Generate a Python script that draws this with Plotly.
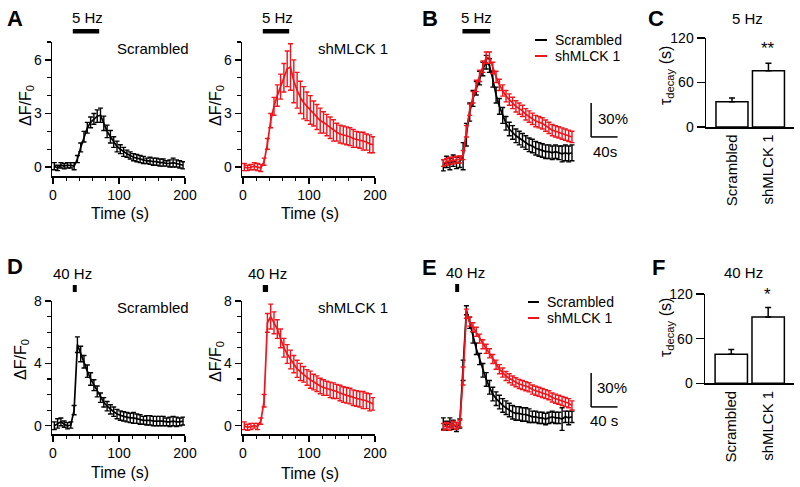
import plotly.graph_objects as go

W, H = 800, 487
FONT = "Liberation Sans, Arial, sans-serif"
RED = "#f0141c"
BLACK = "#000000"

# ---------------- data ----------------
TIME = [2, 7, 12, 17, 22, 27, 32, 37, 42, 47, 52, 57, 62, 67, 72, 77, 82, 87, 92, 97,
        102, 107, 112, 117, 122, 127, 132, 137, 142, 147, 152, 157, 162, 167, 172, 177,
        182, 187, 192, 197]

# Panel A (5 Hz), dF/F0
A_SCR = [0.05, -0.05, 0.1, 0.05, 0.1, 0.1, 0.05, 0.45, 1.1, 1.7, 2.2, 2.5, 2.7, 2.85, 2.9,
         2.45, 2.0, 1.7, 1.4, 1.15, 1.0, 0.85, 0.75, 0.65, 0.55, 0.5, 0.45, 0.4, 0.35, 0.35,
         0.3, 0.3, 0.25, 0.25, 0.2, 0.2, 0.25, 0.2, 0.15, 0.1]
A_SCR_ERR = [0.2, 0.15, 0.15, 0.15, 0.15, 0.15, 0.2, 0.2, 0.25, 0.3, 0.3, 0.3, 0.3, 0.35, 0.4,
             0.4, 0.35, 0.35, 0.3, 0.3, 0.25, 0.25, 0.2, 0.2, 0.2, 0.2, 0.2, 0.2, 0.15, 0.2,
             0.2, 0.2, 0.2, 0.2, 0.15, 0.2, 0.25, 0.2, 0.2, 0.2]
A_SH = [0.0, -0.05, 0.0, 0.05, 0.0, -0.05, 0.3, 1.3, 2.6, 3.4, 4.0, 4.5, 5.0, 5.5, 5.6,
        4.8, 4.3, 3.9, 3.6, 3.4, 3.2, 3.0, 2.8, 2.6, 2.5, 2.35, 2.2, 2.05, 1.95, 1.85,
        1.8, 1.75, 1.7, 1.6, 1.55, 1.5, 1.45, 1.4, 1.3, 1.25]
A_SH_ERR = [0.2, 0.15, 0.15, 0.2, 0.2, 0.2, 0.2, 0.3, 0.4, 0.5, 0.6, 0.7, 0.8, 1.0, 1.3,
            1.2, 1.0, 0.9, 0.9, 0.8, 0.8, 0.7, 0.7, 0.7, 0.6, 0.6, 0.6, 0.6, 0.5, 0.5,
            0.5, 0.5, 0.5, 0.5, 0.45, 0.45, 0.5, 0.45, 0.5, 0.45]

# Panel B (5 Hz), normalized %
B_SCR = [-2, 1, -1, 2, 0, 1, 6, 25, 45, 57, 66, 75, 83, 89, 86,
         74, 60, 50, 42, 35, 30, 27, 24, 22, 20, 18, 16, 15, 13, 12,
         11, 10, 10, 9, 10, 9, 8, 9, 8, 9]
B_SCR_ERR = [5, 5, 5, 5, 5, 5, 12, 10, 8, 7, 6, 6, 6, 6, 6, 7, 7, 7, 7, 6,
             6, 6, 6, 6, 6, 6, 6, 6, 6, 6, 6, 6, 6, 6, 6, 6, 7, 7, 7, 7]
B_SH = [0, 1, 2, 2, 3, 3, 7, 28, 47, 58, 68, 77, 85, 93, 93,
        84, 76, 69, 64, 59, 56, 53, 50, 48, 46, 43, 41, 39, 37, 36,
        35, 33, 31, 29, 28, 27, 26, 25, 24, 23]
B_SH_ERR = [3, 3, 3, 3, 3, 3, 4, 5, 5, 5, 5, 5, 5, 5, 5, 5, 5, 5, 5, 5,
            5, 5, 5, 5, 5, 5, 5, 5, 5, 5, 5, 5, 5, 5, 5, 5, 5, 5, 5, 5]

# Panel D (40 Hz), dF/F0
D_SCR = [0.0, 0.15, 0.25, 0.1, 0.0, 0.05, 1.0, 5.2, 4.6, 4.1, 3.5, 3.0, 2.6, 2.2, 1.8,
         1.5, 1.25, 1.05, 0.9, 0.75, 0.65, 0.6, 0.55, 0.5, 0.5, 0.45, 0.4, 0.35, 0.35, 0.35,
         0.3, 0.3, 0.3, 0.3, 0.25, 0.25, 0.3, 0.25, 0.25, 0.3]
D_SCR_ERR = [0.25, 0.3, 0.25, 0.2, 0.2, 0.2, 0.3, 0.5, 0.5, 0.4, 0.4, 0.4, 0.35, 0.35, 0.3,
             0.3, 0.3, 0.3, 0.3, 0.3, 0.3, 0.3, 0.3, 0.3, 0.35, 0.3, 0.3, 0.25, 0.3, 0.3,
             0.3, 0.3, 0.3, 0.3, 0.25, 0.3, 0.3, 0.3, 0.25, 0.25]
D_SH = [0.0, -0.1, -0.05, 0.0, -0.05, 0.3, 1.6, 6.6, 7.0, 6.6, 6.2, 5.6, 5.0, 4.6, 4.25,
        3.95, 3.65, 3.45, 3.3, 3.1, 2.95, 2.8, 2.7, 2.55, 2.45, 2.4, 2.3, 2.25, 2.2, 2.1,
        2.0, 1.95, 1.9, 1.8, 1.75, 1.7, 1.65, 1.6, 1.5, 1.4]
D_SH_ERR = [0.25, 0.2, 0.2, 0.15, 0.2, 0.2, 0.4, 0.6, 0.8, 0.7, 0.6, 0.6, 0.6, 0.6, 0.6,
            0.55, 0.55, 0.55, 0.5, 0.5, 0.55, 0.5, 0.5, 0.5, 0.5, 0.45, 0.5, 0.5, 0.45, 0.5,
            0.5, 0.5, 0.5, 0.5, 0.5, 0.5, 0.55, 0.5, 0.55, 0.4]

# Panel E (40 Hz), normalized %
E_SCR = [3, 1, 4, 2, 0, 3, 50, 103, 92, 79, 69, 60, 50, 42, 35,
         29, 25, 22, 19, 17, 15, 13, 12, 12, 11, 11, 10, 9, 9, 8,
         8, 7, 8, 9, 8, 8, 7, 9, 8, 9]
E_SCR_ERR = [5, 4, 4, 4, 4, 4, 9, 4, 5, 5, 5, 5, 6, 6, 6, 6, 6, 6, 6, 6,
             6, 6, 6, 6, 6, 6, 6, 5, 5, 5, 5, 5, 5, 5, 5, 5, 10, 5, 6, 5]
E_SH = [0, 1, 0, 2, 1, 3, 45, 100, 93, 88, 84, 78, 73, 69, 65,
        60, 55, 51, 48, 45, 43, 41, 39.5, 38, 37, 36, 35, 33, 32, 31,
        30, 29, 28, 26, 25, 24, 23, 22, 21, 19]
E_SH_ERR = [3, 3, 3, 3, 3, 3, 8, 4, 4, 4, 4, 4, 4, 4, 4, 4, 4, 4, 4, 4,
            4, 4, 4, 4, 4, 4, 4, 4, 4, 4, 4, 4, 4, 4, 4, 4, 4, 4, 4, 4]

# Panels C / F: tau decay (s)
GROUPS = ["Scrambled", "shMLCK 1"]
TAU_5HZ = [34, 76]
TAU_5HZ_ERR = [5, 10]
TAU_40HZ = [39, 89]
TAU_40HZ_ERR = [6.5, 13]

STIM_5HZ = [30, 70]
STIM_40HZ = [30, 36]
SCALE_Y = 30   # %
SCALE_X = 40   # s


def px(x):
    return x / W


def py(y):
    return 1 - y / H


fig = go.Figure()

# axis definitions: (x px domain, y px domain, x range, y range)
AX = {
    1: dict(xd=(52, 185), yd=(42, 176), xr=(-1.5, 200), yr=(-0.5, 7.0)),
    2: dict(xd=(242, 375), yd=(42, 176), xr=(-1.5, 200), yr=(-0.5, 7.0)),
    3: dict(xd=(441, 630), yd=(40, 176), xr=(-1.5, 284.9), yr=(-11.5, 108.6)),
    4: dict(xd=(706, 794), yd=(38, 127), xr=(-0.712, 1.70), yr=(0, 120)),
    5: dict(xd=(52, 185), yd=(301, 434), xr=(-1.5, 200), yr=(-0.53, 8)),
    6: dict(xd=(242, 375), yd=(301, 434), xr=(-1.5, 200), yr=(-0.53, 8)),
    7: dict(xd=(441, 630), yd=(295, 440), xr=(-1.5, 284.9), yr=(-11.5, 116.5)),
    8: dict(xd=(705, 794), yd=(294, 383.3), xr=(-0.712, 1.70), yr=(0, 120)),
}


def axname(i, k):
    return k if i == 1 else f"{k}{i}"


layout = dict(
    template="none",
    width=W, height=H, margin=dict(l=0, r=0, t=0, b=0, pad=0, autoexpand=False),
    paper_bgcolor="white", plot_bgcolor="white", showlegend=False,
    font=dict(family=FONT, size=14, color="black"),
)

for i, a in AX.items():
    xa = dict(domain=[px(a["xd"][0]), px(a["xd"][1])], range=list(a["xr"]),
              anchor=axname(i, "y"), showgrid=False, zeroline=False,
              fixedrange=True, automargin=False)
    ya = dict(domain=[py(a["yd"][1]), py(a["yd"][0])], range=list(a["yr"]),
              anchor=axname(i, "x"), showgrid=False, zeroline=False,
              fixedrange=True, automargin=False)
    if i in (3, 7):
        xa.update(visible=False)
        ya.update(visible=False)
    elif i in (4, 8):
        xa.update(showline=True, linecolor="black", linewidth=1.5, ticks="",
                  tickangle=-90, tickfont=dict(size=15), type="category")
        ya.update(showline=True, linecolor="black", linewidth=1.5, ticks="outside",
                  ticklen=8, tickwidth=1.5, tickcolor="black", tickvals=[0, 60, 120],
                  tickfont=dict(size=14))
    else:
        ymax = 7 if i in (1, 2) else 8
        ydt = 3 if i in (1, 2) else 4
        xa.update(showline=True, linecolor="black", linewidth=1.5, ticks="outside",
                  ticklen=6, tickwidth=1.5, tickcolor="black", tickvals=[0, 100, 200],
                  tickfont=dict(size=14),
                  minor=dict(tickvals=list(range(0, 201, 20)), ticks="outside",
                             ticklen=3.5, tickwidth=1.2, tickcolor="black"))
        ya.update(showline=True, linecolor="black", linewidth=1.5, ticks="outside",
                  ticklen=6, tickwidth=1.5, tickcolor="black",
                  tickvals=list(range(0, ymax + 1, ydt)), tickfont=dict(size=14),
                  minor=dict(tickvals=list(range(0, ymax + 1)), ticks="outside",
                             ticklen=3.5, tickwidth=1.2, tickcolor="black"))
    layout[axname(i, "xaxis")] = xa
    layout[axname(i, "yaxis")] = ya


def trace(y, err, color, i):
    fig.add_trace(go.Scatter(
        x=TIME, y=y, mode="lines",
        line=dict(color=color, width=1.7),
        error_y=dict(type="data", array=err, visible=True, color=color,
                     thickness=1.4, width=2.5),
        xaxis=axname(i, "x"), yaxis=axname(i, "y"), hoverinfo="skip"))


trace(A_SCR, A_SCR_ERR, BLACK, 1)
trace(A_SH, A_SH_ERR, RED, 2)
trace(B_SCR, B_SCR_ERR, BLACK, 3)
trace(B_SH, B_SH_ERR, RED, 3)
trace(D_SCR, D_SCR_ERR, BLACK, 5)
trace(D_SH, D_SH_ERR, RED, 6)
trace(E_SCR, E_SCR_ERR, BLACK, 7)
trace(E_SH, E_SH_ERR, RED, 7)


def bars(vals, errs, i):
    fig.add_trace(go.Bar(
        x=GROUPS, y=vals, width=0.877,
        marker=dict(color="white", line=dict(color="black", width=1.5)),
        error_y=dict(type="data", symmetric=False, array=errs, arrayminus=[0, 0],
                     color="black", thickness=1.5, width=3),
        xaxis=axname(i, "x"), yaxis=axname(i, "y"), hoverinfo="skip"))


bars(TAU_5HZ, TAU_5HZ_ERR, 4)
bars(TAU_40HZ, TAU_40HZ_ERR, 8)

shapes = []
# stimulus bars
for i, stim, y0, y1 in [(1, STIM_5HZ, 29, 33.5), (2, STIM_5HZ, 29, 33.5),
                        (3, [31, 73], 29, 33.5),
                        (5, STIM_40HZ, 285, 292), (6, [30, 38], 285, 292),
                        (7, [20, 26], 284, 292)]:
    shapes.append(dict(type="rect", xref=axname(i, "x"), yref="paper",
                       x0=stim[0], x1=stim[1], y0=py(y1), y1=py(y0),
                       fillcolor="black", line=dict(width=0)))

# scale bars (data units of the overlay panels)
for i, x0, y0 in [(3, 226, 23), (7, 226, 17.7)]:
    xr, yr = axname(i, "x"), axname(i, "y")
    shapes.append(dict(type="line", xref=xr, yref=yr, x0=x0, x1=x0, y0=y0,
                       y1=y0 + SCALE_Y, line=dict(color="black", width=1.5)))
    shapes.append(dict(type="line", xref=xr, yref=yr, x0=x0, x1=x0 + SCALE_X,
                       y0=y0, y1=y0, line=dict(color="black", width=1.5)))

# legend line samples
for (x0, x1, yy, c) in [(535, 547, 40, BLACK), (535, 547, 56, RED),
                        (528, 539, 302, BLACK), (528, 539, 318, RED)]:
    shapes.append(dict(type="line", xref="paper", yref="paper", x0=px(x0), x1=px(x1),
                       y0=py(yy), y1=py(yy), line=dict(color=c, width=2)))

layout["shapes"] = shapes

ann = []


def text(x, y, s, size=15, xanchor="center", bold=False, angle=0):
    ann.append(dict(x=px(x), y=py(y), xref="paper", yref="paper",
                    text=f"<b>{s}</b>" if bold else s,
                    showarrow=False, xanchor=xanchor, yanchor="middle",
                    textangle=angle,
                    font=dict(size=size, family=FONT, color="black")))


# panel letters
for s, x, y in [("A", 15, 19), ("B", 430, 19), ("C", 656, 19),
                ("D", 15, 266), ("E", 429, 267), ("F", 658, 267)]:
    text(x, y, s, size=22, bold=True)

# stimulus labels
for s, x, y in [("5 Hz", 87, 18), ("5 Hz", 277, 18), ("5 Hz", 477, 18),
                ("40 Hz", 72, 273), ("40 Hz", 267, 273), ("40 Hz", 465, 272)]:
    text(x, y, s)

# condition labels
text(191, 49, "Scrambled", xanchor="right")
text(390, 49, "shMLCK 1", xanchor="right")
text(191, 307, "Scrambled", xanchor="right")
text(390, 307, "shMLCK 1", xanchor="right")

# y titles
dff = "ΔF/F<sub>0</sub>"
text(26, 106, dff, size=16, angle=-90)
text(216, 106, dff, size=16, angle=-90)
text(21, 360, dff, size=16, angle=-90)
text(216, 362, dff, size=16, angle=-90)
tau = "τ<sub>decay</sub> (s)"
text(667, 76, tau, size=16, angle=-90)
text(666, 328, tau, size=16, angle=-90)

# x titles
text(120, 213, "Time (s)", size=16)
text(310, 213, "Time (s)", size=16)
text(120, 472, "Time (s)", size=16)
text(310, 473, "Time (s)", size=16)

# legends
text(553, 40, "Scrambled", size=14, xanchor="left")
text(553, 56, "shMLCK 1", size=14, xanchor="left")
text(545, 302, "Scrambled", size=14, xanchor="left")
text(545, 318, "shMLCK 1", size=14, xanchor="left")

# scale bar labels
text(613, 118, "30%")
text(605, 152, "40s")
text(612, 387, "30%")
text(604, 420, "40 s")

# bar chart titles / significance
text(747, 19, "5 Hz")
text(743, 272, "40 Hz")
text(768, 48, "**", size=17)
text(767, 294, "*", size=17)

layout["annotations"] = ann
fig.update_layout(**layout)
fig.write_html("out.html",
               config={"displayModeBar": False, "staticPlot": True},
               post_script="document.body.style.margin='0';"
                           "document.body.style.padding='0';"
                           "document.body.style.overflow='hidden';")
